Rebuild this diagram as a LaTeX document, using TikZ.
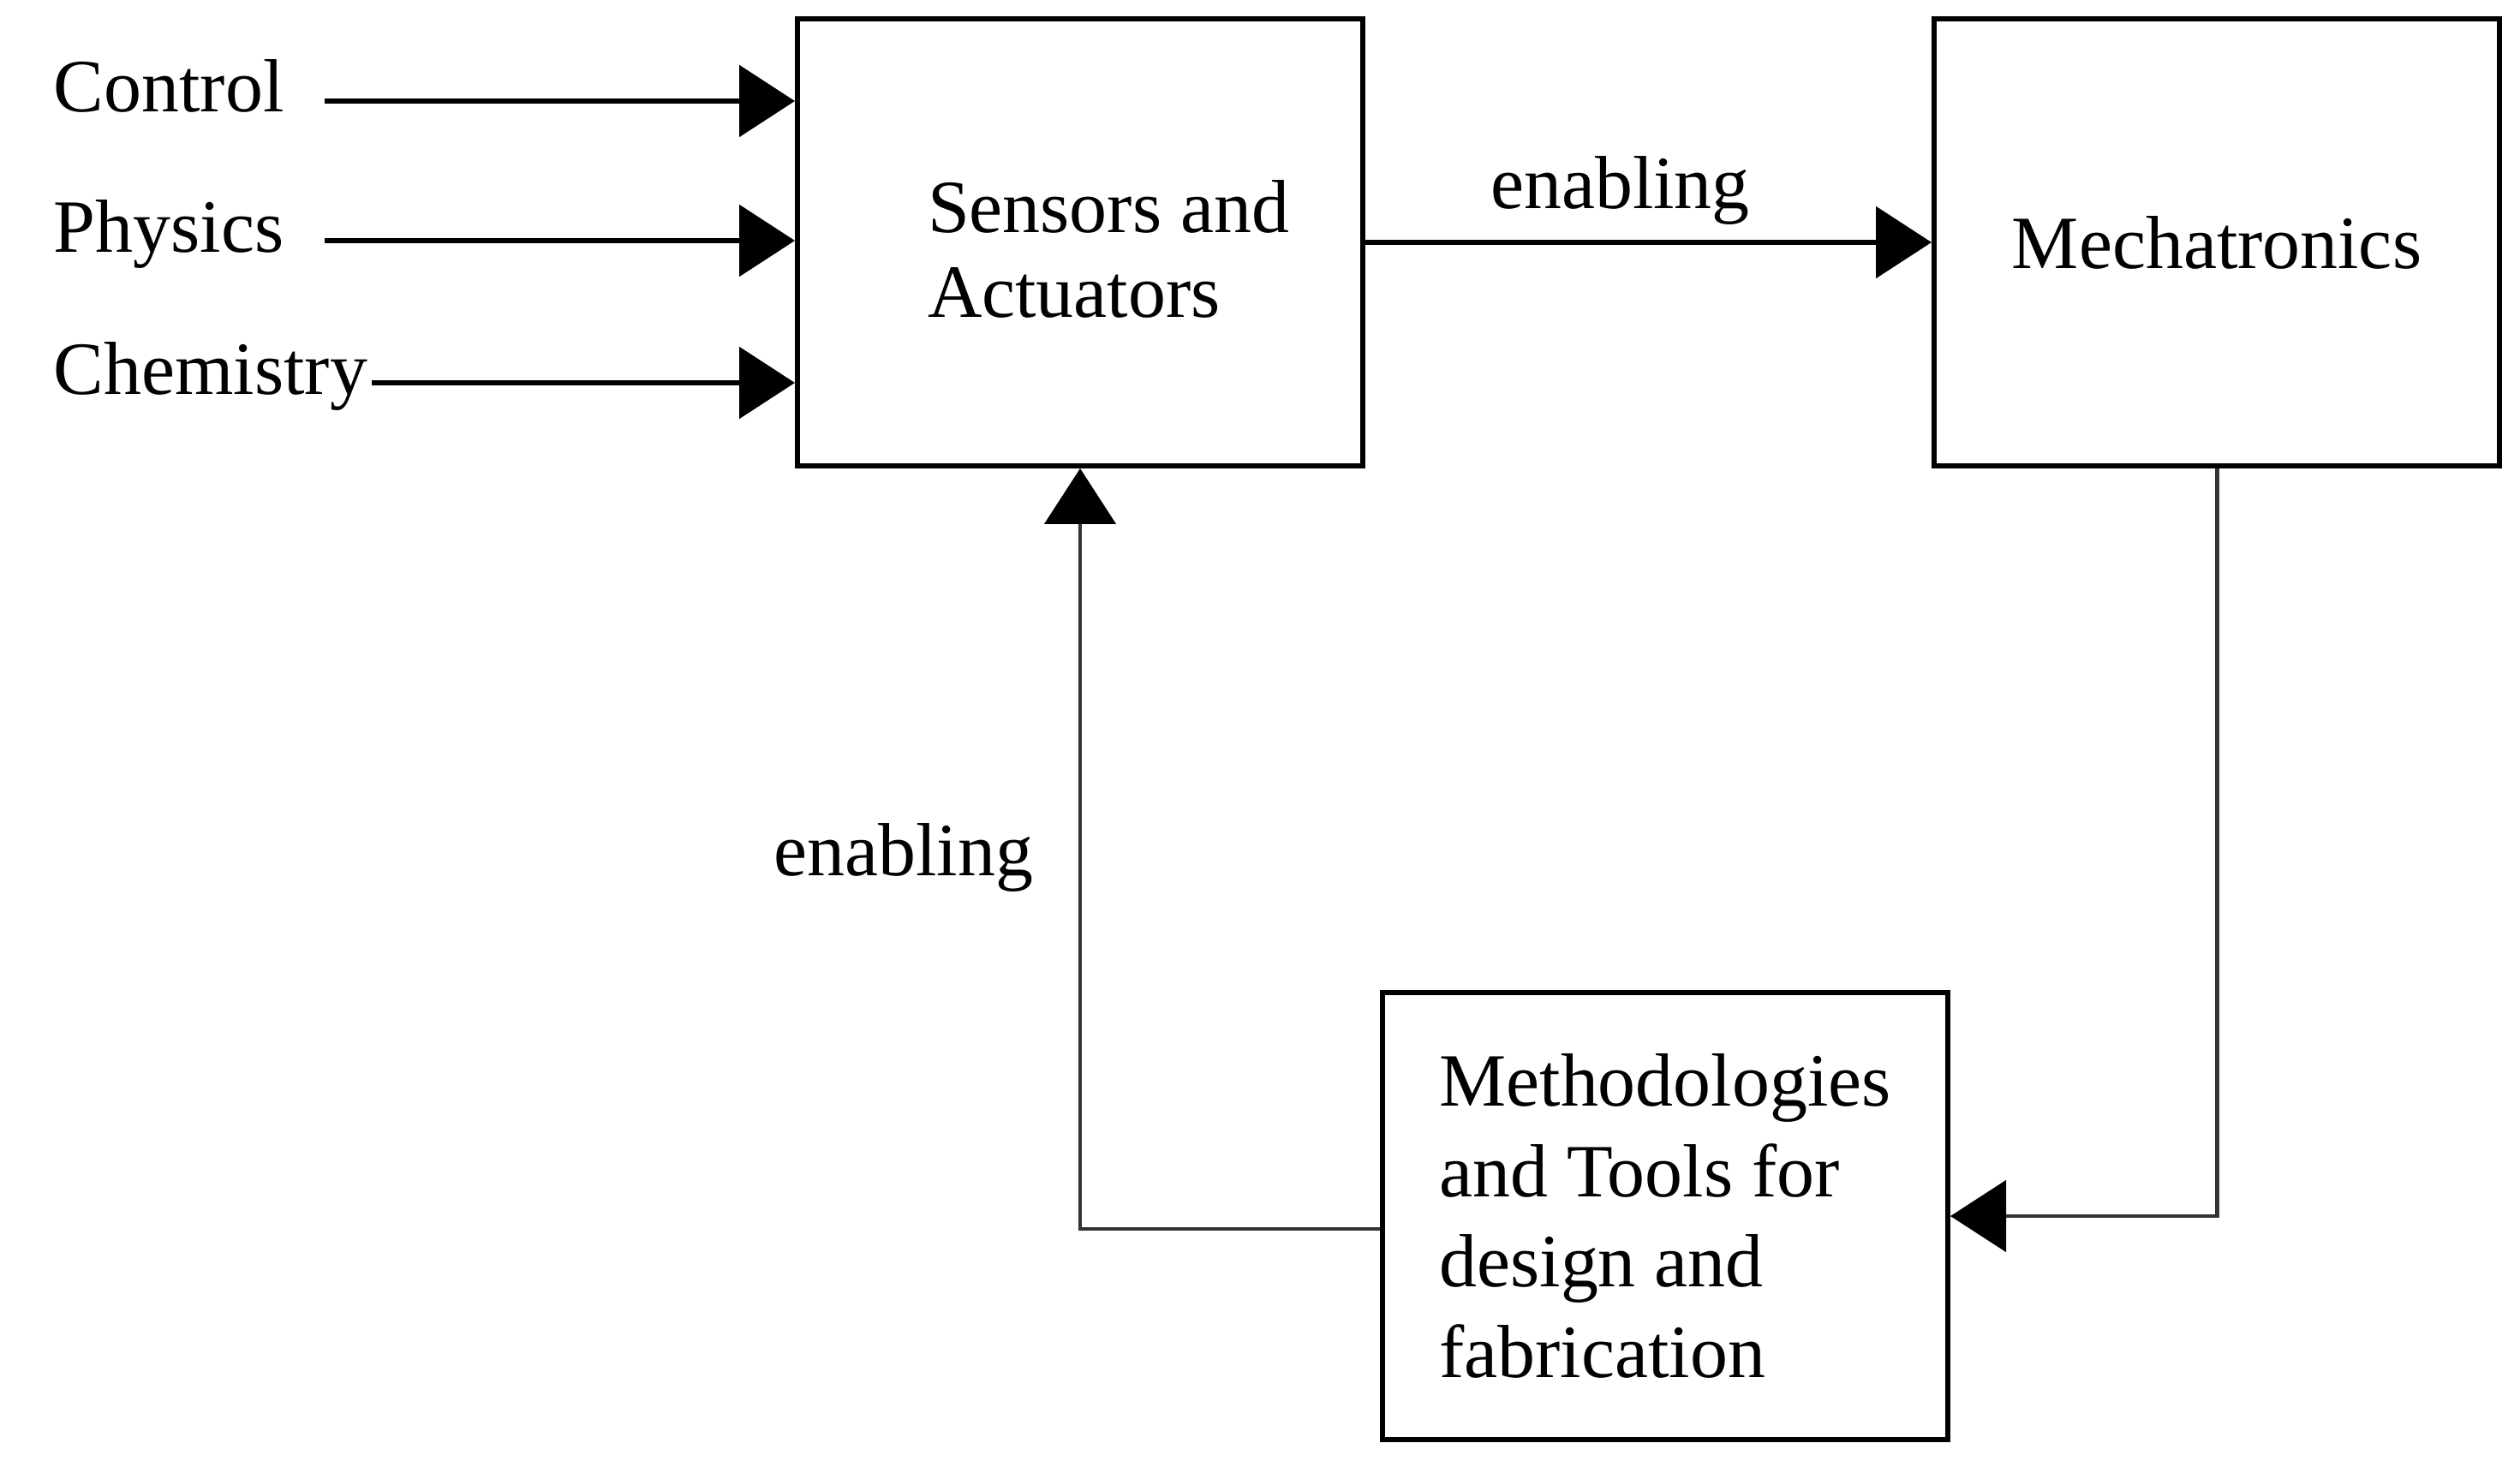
\documentclass[tikz,border=0pt]{standalone}
\usepackage{fontspec}
\setmainfont{Liberation Serif}
\usetikzlibrary{calc,arrows.meta,positioning}

\begin{document}
\begin{tikzpicture}[line width=1.7pt, every node/.style={font=\fontsize{25}{28}\selectfont},
    box/.style={draw, minimum width=6.6cm, minimum height=5.22cm, inner sep=0pt},
    tip/.style={-{Triangle[length=0.65cm,width=0.83cm,black]}},
    back/.style={line width=1.4pt, draw=black!80}]
        \useasboundingbox (0,0) rectangle (29.42,-17.13);
        % boxes
        \node[box] (sensors) at (12.61,-2.83) {};
        \node[anchor=west, align=left, inner sep=0pt] (sensorstext) at ([xshift=1.52cm,yshift=-0.08cm]sensors.west) {Sensors and\\Actuators};
        \node[box] (mech) at (25.88,-2.83) {Mechatronics};
        \node[box, align=left, font=\fontsize{25}{30}\selectfont] (meth) at (19.44,-14.2) {Methodologies\\and Tools for\\design and\\fabrication};

        % inputs
        \coordinate (in1) at (3.79,-1.18);
        \coordinate (in2) at (3.79,-2.81);
        \coordinate (in3) at (4.34,-4.47);
        \node[anchor=base west, inner sep=0pt] (control) at (0.6,-1.31) {Control};
        \node[anchor=base west, inner sep=0pt] (physics) at (0.6,-2.95) {Physics};
        \node[anchor=base west, inner sep=0pt] (chemistry) at (0.6,-4.61) {Chemistry};
        \draw[tip] (in1) -- (in1 -| sensors.west);
        \draw[tip] (in2) -- (in2 -| sensors.west);
        \draw[tip] (in3) -- (in3 -| sensors.west);

        % enabling links
        \draw[tip] (sensors.east) -- node[above, pos=0.45, inner sep=5pt] (enabletop) {enabling} (mech.west);
        \draw[back, tip] (mech.south) |- (meth.east);
        \draw[back, tip] ([yshift=-0.15cm]meth.west) -| node[pos=0.744, left=0.35cm, inner sep=5pt] (enableleft) {enabling} (sensors.south);
    \end{tikzpicture}
\end{document}
